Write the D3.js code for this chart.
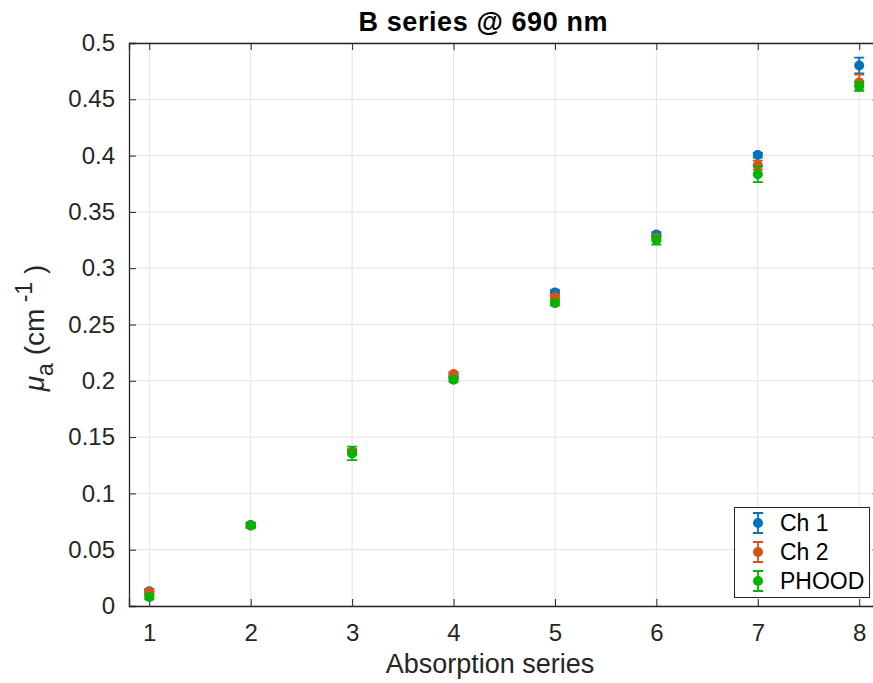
<!DOCTYPE html>
<html><head><meta charset="utf-8">
<script src="https://cdn.jsdelivr.net/npm/d3@7"></script>
<style>body{margin:0;background:#fff}svg{display:block}text{font-family:"Liberation Sans",Arial,Helvetica,sans-serif}</style>
</head><body>
<svg id="c" width="873" height="683"></svg>
<script>
const categories = [1, 2, 3, 4, 5, 6, 7, 8];
const seriesNames = ["Ch 1", "Ch 2", "PHOOD"];
const ch1Values = [0.013, 0.072, 0.137, 0.204, 0.2785, 0.330, 0.4005, 0.480];
const ch1Errors = [0.002, 0.002, 0.002, 0.002, 0.002, 0.002, 0.002, 0.007];
const ch2Values = [0.0125, 0.0715, 0.137, 0.206, 0.2745, 0.327, 0.3915, 0.465];
const ch2Errors = [0.002, 0.002, 0.002, 0.002, 0.002, 0.002, 0.004, 0.007];
const phoodValues = [0.008, 0.0715, 0.1355, 0.201, 0.269, 0.325, 0.3835, 0.4615];
const phoodErrors = [0.002, 0.002, 0.006, 0.002, 0.002, 0.004, 0.007, 0.004];
const yTicks = [0, 0.05, 0.1, 0.15, 0.2, 0.25, 0.3, 0.35, 0.4, 0.45, 0.5];
const colors = ["#0072BD", "#D95319", "#00B400"];

const svg = d3.select("#c");
const x = d3.scaleLinear().domain([0.8, 8.2]).range([129, 879.5]);
const y = d3.scaleLinear().domain([0, 0.5]).range([606, 43]);
const axisColor = "#262626";

// grid
const g = svg.append("g");
g.selectAll(".gx").data(categories).enter().append("line")
  .attr("x1", d => x(d)).attr("x2", d => x(d)).attr("y1", y(0)).attr("y2", y(0.5))
  .attr("stroke", "#e3e3e3").attr("stroke-width", 1);
g.selectAll(".gy").data(yTicks).enter().append("line")
  .attr("x1", x(0.8)).attr("x2", x(8.2)).attr("y1", d => y(d)).attr("y2", d => y(d))
  .attr("stroke", "#e3e3e3").attr("stroke-width", 1);

// axes
const xAxis = d3.axisBottom(x).tickValues(categories).tickSize(-7).tickPadding(18).tickFormat(d3.format("d"));
const yAxis = d3.axisLeft(y).tickValues(yTicks).tickSize(-7).tickPadding(14).tickFormat(d => d === 0 ? "0" : String(d));
const xa = svg.append("g").attr("transform", `translate(0,${y(0)})`).call(xAxis);
const ya = svg.append("g").attr("transform", `translate(${x(0.8)},0)`).call(yAxis);
const xt = svg.append("g").attr("transform", `translate(0,${y(0.5)})`).call(d3.axisTop(x).tickValues(categories).tickSize(-7).tickFormat(""));
const yr = svg.append("g").attr("transform", `translate(${x(8.2)},0)`).call(d3.axisRight(y).tickValues(yTicks).tickSize(-7).tickFormat(""));
[xa, ya, xt, yr].forEach(a => {
  a.select(".domain").attr("stroke", axisColor).attr("stroke-width", 1.3);
  a.selectAll(".tick line").attr("stroke", axisColor).attr("stroke-width", 1);
  a.selectAll(".tick text").attr("fill", axisColor).attr("font-size", 24).attr("font-family", "'Liberation Sans',Arial,sans-serif");
});

// series
const series = [
  {name: seriesNames[0], v: ch1Values, e: ch1Errors, c: colors[0]},
  {name: seriesNames[1], v: ch2Values, e: ch2Errors, c: colors[1]},
  {name: seriesNames[2], v: phoodValues, e: phoodErrors, c: colors[2]}
];
const cap = 5;
series.forEach(s => {
  const sg = svg.append("g");
  const pts = categories.map((c, i) => ({x: c, v: s.v[i], e: s.e[i]}));
  sg.selectAll(".eb").data(pts).enter().append("path")
    .attr("d", d => {
      const px = x(d.x), lo = y(d.v - d.e), hi = y(d.v + d.e);
      return `M${px},${lo}V${hi}M${px - cap},${lo}H${px + cap}M${px - cap},${hi}H${px + cap}`;
    })
    .attr("stroke", s.c).attr("stroke-width", 1.8).attr("fill", "none");
  sg.selectAll(".pt").data(pts).enter().append("circle")
    .attr("cx", d => x(d.x)).attr("cy", d => y(d.v)).attr("r", 5)
    .attr("fill", s.c);
});

// title and labels
svg.append("text").attr("x", 483).attr("y", 31).attr("text-anchor", "middle")
  .attr("font-size", 27).attr("font-weight", "bold").attr("fill", "#000").attr("textLength", 249).text("B series @ 690 nm");
svg.append("text").attr("x", 490).attr("y", 673).attr("text-anchor", "middle")
  .attr("font-size", 27).attr("fill", axisColor).text("Absorption series");
const yl = svg.append("text").attr("transform", "translate(44,328) rotate(-90)")
  .attr("text-anchor", "middle").attr("font-size", 28).attr("fill", axisColor);
yl.append("tspan").attr("font-style", "italic").text("μ");
yl.append("tspan").attr("font-size", 23).attr("dy", 9).text("a");
yl.append("tspan").attr("dy", -9).text(" (cm");
yl.append("tspan").attr("font-size", 23).attr("dy", -12).text(" -1");
yl.append("tspan").attr("dy", 12).text(" )");

// legend
const lg = svg.append("g");
lg.append("rect").attr("x", 734.5).attr("y", 507.5).attr("width", 135).attr("height", 90)
  .attr("fill", "#fff").attr("stroke", axisColor).attr("stroke-width", 1);
series.forEach((s, i) => {
  const cy = 523 + i * 29;
  const lx = 758;
  lg.append("path").attr("d", `M${lx},${cy - 10}V${cy + 10}M${lx - 5},${cy - 10}H${lx + 5}M${lx - 5},${cy + 10}H${lx + 5}`)
    .attr("stroke", s.c).attr("stroke-width", 1.8).attr("fill", "none");
  lg.append("circle").attr("cx", lx).attr("cy", cy).attr("r", 5).attr("fill", s.c);
  lg.append("text").attr("x", 780).attr("y", cy + 8).attr("font-size", 23).attr("fill", "#000").text(s.name);
});
</script>
</body></html>
